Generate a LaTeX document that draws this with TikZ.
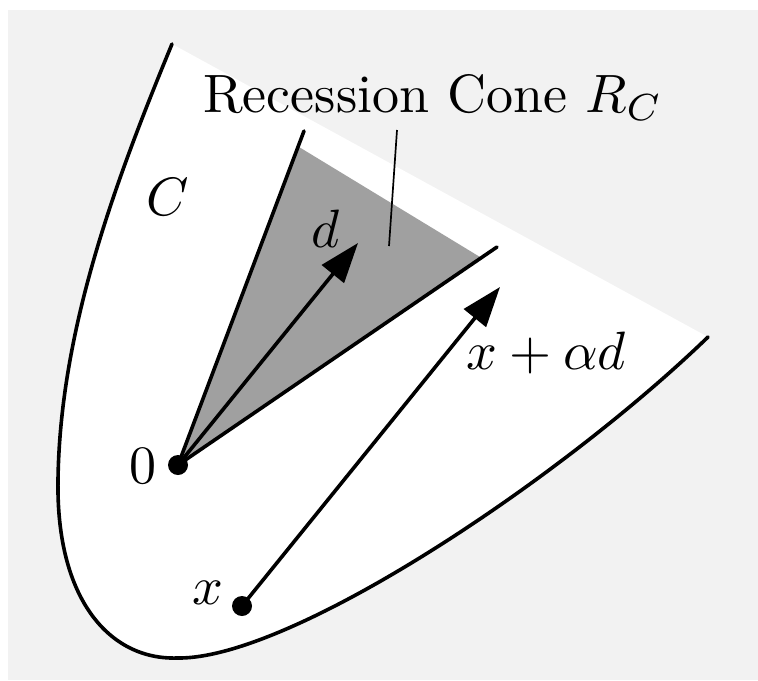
\documentclass[tikz,border=0pt]{standalone}
\usepackage{graphicx}
\usetikzlibrary{arrows.meta}
\definecolor{bggrey}{RGB}{242,242,242}
\definecolor{conegrey}{RGB}{160,160,160}
\newcommand{\mylbl}[1]{\scalebox{2.7}{#1}}
\tikzset{
  thickline/.style={line width=1.8pt, line cap=round},
  vecarrow/.style={line width=1.8pt, -{Triangle[length=20pt,width=14pt]}},
  dotnode/.style={circle, fill=black, inner sep=0pt, minimum size=10pt},
  lbl/.style={inner sep=0pt},
}
\begin{document}
\begin{tikzpicture}[x=0.5pt,y=-0.5pt]
\useasboundingbox (0,0) rectangle (758,680);
\fill[bggrey] (8,10) rectangle (758,680);
% convex set C
\fill[white] (172,44) .. controls (115,182) and (60,330) .. (58,480)
  .. controls (56,600) and (110,660) .. (177,658)
  .. controls (290,660) and (560,480) .. (708,337) -- cycle;
\draw[thickline] (172,44) .. controls (115,182) and (60,330) .. (58,480)
  .. controls (56,600) and (110,660) .. (177,658)
  .. controls (290,660) and (560,480) .. (708,337);
% recession cone
\fill[conegrey] (178,465) -- (299,147) -- (480,257) -- cycle;
\node[dotnode] (O) at (178,465) {};
\coordinate (rayL) at (304,131);
\coordinate (rayR) at (497,247);
\draw[thickline] (O.center) -- (rayL);
\draw[thickline] (O.center) -- (rayR);
\coordinate (dtip) at (358,243);
\draw[vecarrow] (O.center) -- (dtip);
\node[dotnode] (X) at (242,606) {};
\coordinate (xtip) at (500,287);
\draw[vecarrow] (X.center) -- (xtip);
% labels
\node[lbl, anchor=base] (title) at (433,112) {\mylbl{Recession Cone $R_C$}};
\coordinate (ptrTop) at (397,130);
\coordinate (ptrBot) at (389,246);
\draw[line width=0.85pt] (ptrTop) -- (ptrBot);
\node[lbl] (Clbl) at (168,197) {\mylbl{$C$}};
\node[lbl] (dlbl) at (326,229) {\mylbl{$d$}};
\node[lbl] (xadlbl) at (546,353) {\mylbl{$x+\alpha d$}};
\node[lbl] (zlbl) at (143,466) {\mylbl{$0$}};
\node[lbl] (xlbl) at (208,593) {\mylbl{$x$}};
\end{tikzpicture}
\end{document}
